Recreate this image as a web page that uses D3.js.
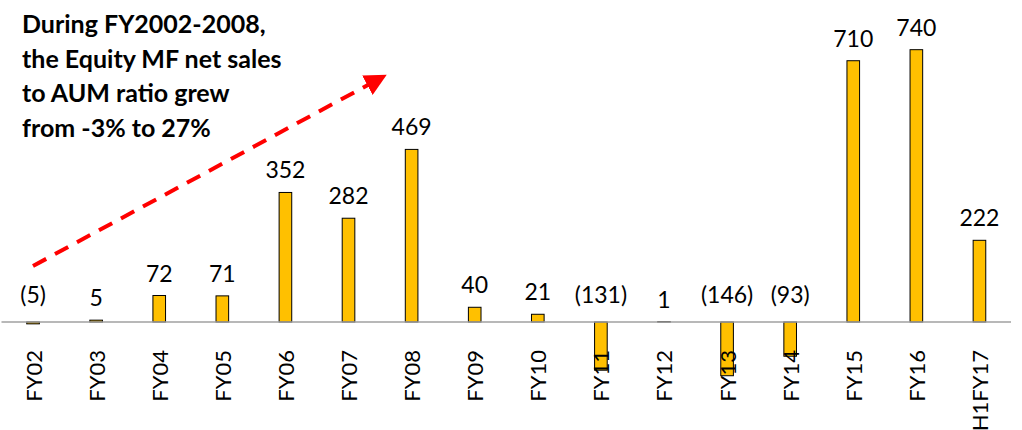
<!DOCTYPE html>
<html>
<head>
<meta charset="utf-8">
<script src="https://cdn.jsdelivr.net/npm/d3@7"></script>
<style>
  html, body { margin: 0; padding: 0; background: #fff; }
  svg { display: block; }
</style>
</head>
<body>
<svg id="chart" width="1022" height="430"></svg>
<script>
// Equity MF net sales by fiscal year
const categories = ["FY02","FY03","FY04","FY05","FY06","FY07","FY08","FY09","FY10","FY11","FY12","FY13","FY14","FY15","FY16","H1FY17"];
const netSales = [-5, 5, 72, 71, 352, 282, 469, 40, 21, -131, 1, -146, -93, 710, 740, 222];
const noteLines = ["During FY2002-2008,", "the Equity MF net sales", "to AUM ratio grew", "from -3% to 27%"];

const svg = d3.select("#chart");
const FONT = "Lato, 'Open Sans', sans-serif";

const x = d3.scalePoint().domain(categories).range([1.5, 1011]).padding(0.5);
const step = x.step();
const barW = step * 0.2;
const y = d3.scaleLinear().domain([-200, 800]).range([395.6, 27.6]);

const data = categories.map((c, i) => ({ cat: c, v: netSales[i] }));

// bars
svg.append("g").selectAll("rect").data(data).join("rect")
  .attr("x", d => x(d.cat) - barW / 2)
  .attr("y", d => y(Math.max(0, d.v)))
  .attr("width", barW)
  .attr("height", d => Math.abs(y(d.v) - y(0)))
  .attr("fill", "#FFC000")
  .attr("stroke", "#000")
  .attr("stroke-width", 1);

// zero line
svg.append("line")
  .attr("x1", 1.5).attr("x2", 1011)
  .attr("y1", y(0)).attr("y2", y(0))
  .attr("stroke", "#A0A0A0").attr("stroke-width", 1.5);

// value labels
const fmt = v => v < 0 ? `(${Math.abs(v)})` : `${v}`;
svg.append("g").selectAll("text").data(data).join("text")
  .attr("x", d => x(d.cat))
  .attr("y", d => d.v >= 0 ? y(d.v) - 14 : y(0) - 19)
  .attr("text-anchor", "middle")
  .attr("font-family", FONT)
  .attr("font-size", 23)
  .attr("fill", "#000")
  .text(d => fmt(d.v));

// category axis labels (rotated)
const xAxis = d3.axisBottom(x).tickSize(0).tickPadding(0);
const ax = svg.append("g").attr("transform", `translate(0,${y(0)})`).call(xAxis);
ax.select(".domain").remove();
ax.selectAll("text")
  .attr("font-family", FONT)
  .attr("font-size", 22)
  .attr("fill", "#000")
  .attr("text-anchor", "end")
  .attr("dy", null)
  .attr("y", 0)
  .attr("transform", "translate(8,28) rotate(-90)");

// dashed trend arrow
const defs = svg.append("defs");
defs.append("marker")
  .attr("id", "arrowHead")
  .attr("viewBox", "0 0 10 10")
  .attr("refX", 6).attr("refY", 5)
  .attr("markerWidth", 5.5).attr("markerHeight", 5.5)
  .attr("markerUnits", "strokeWidth")
  .attr("orient", "auto")
  .append("path").attr("d", "M0,0 L10,5 L0,10 Z").attr("fill", "#FF0000");

svg.append("line")
  .attr("x1", 33).attr("y1", 266)
  .attr("x2", 379).attr("y2", 79)
  .attr("stroke", "#FF0000")
  .attr("stroke-width", 4)
  .attr("stroke-dasharray", "15 10")
  .attr("marker-end", "url(#arrowHead)");

// annotation
svg.append("text")
  .attr("font-family", FONT)
  .attr("font-weight", "bold")
  .attr("font-size", 25)
  .attr("fill", "#000")
  .selectAll("tspan").data(noteLines).join("tspan")
  .attr("x", 22)
  .attr("y", (d, i) => 33 + i * 34.7)
  .text(d => d);
</script>
</body>
</html>
